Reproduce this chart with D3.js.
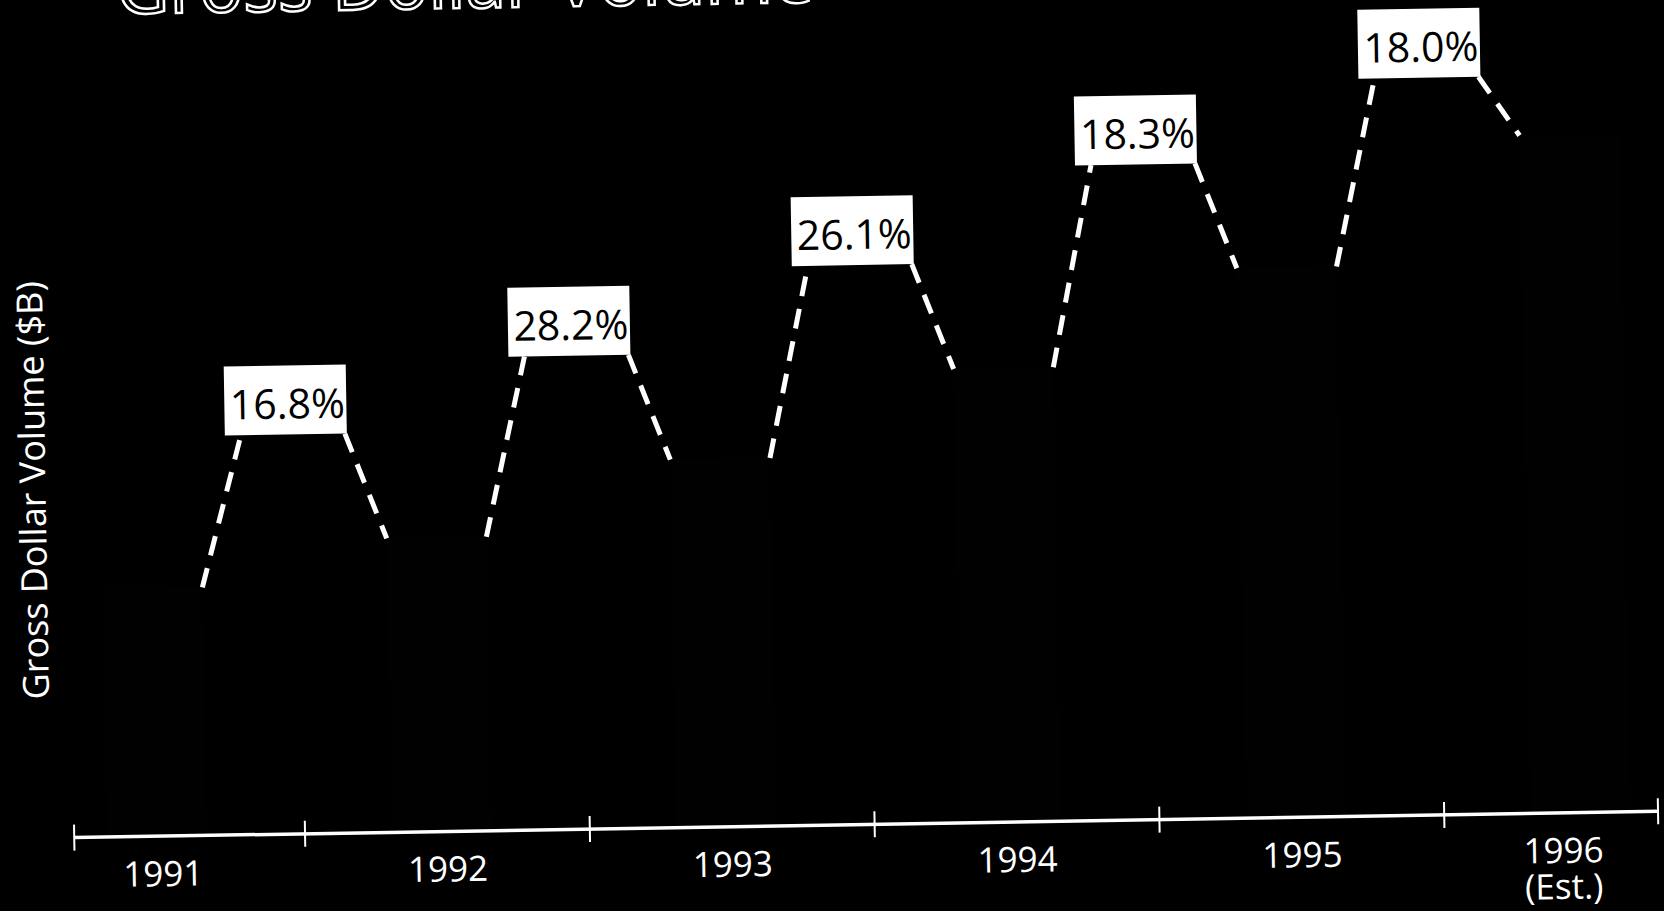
<!DOCTYPE html>
<html>
<head>
<meta charset="utf-8">
<script src="https://cdn.jsdelivr.net/npm/d3@7"></script>
<style>
  html, body { margin: 0; background: #000; overflow: hidden; }
  svg { display: block; }
  text { font-family: "Open Sans", "Noto Sans", sans-serif; }
</style>
</head>
<body>
<div id="chart"></div>
<script>
// Gross Dollar Volume Bar Chart With Growth Labels

// Data
const years = ["1991", "1992", "1993", "1994", "1995", "1996"];
const yearNotes = ["", "", "", "", "", "(Est.)"];
const volumes = [124, 147, 184, 227, 275, 339]; // $B
const growthLabels = ["16.8%", "28.2%", "26.1%", "18.3%", "18.0%"];

// Dimensions
const width = 1664, height = 911;
const baseY = 825; // Axis Line

const svg = d3.select("#chart")
  .append("svg")
    .attr("width", width)
    .attr("height", height);

svg.append("rect")
  .attr("width", width)
  .attr("height", height)
  .attr("fill", "#000");

// Whole Chart Is Slightly Tilted Like The Scan
const g = svg.append("g")
  .attr("transform", `rotate(-0.95, ${width / 2}, ${height / 2})`);

// Scales
const x = d3.scaleBand()
  .domain(years)
  .range([14, 1723]);
const y = d3.scaleLinear()
  .domain([0, 350])
  .range([baseY, 125]);

const barW = x.bandwidth() * 0.35;
const barX = d => x(d) + (x.bandwidth() - barW) / 2 - 6;

// Title (cut off at top)
g.append("text")
  .attr("x", 124)
  .attr("y", 2)
  .attr("font-size", "73px")
  .attr("fill", "#000")
  .attr("stroke", "#fff")
  .attr("stroke-width", 2.5)
  .text("Gross Dollar Volume");

// Bars (almost black on black)
g.selectAll(".bar")
  .data(years)
  .join("rect")
    .attr("class", "bar")
    .attr("x", d => barX(d))
    .attr("y", (d, i) => y(volumes[i]))
    .attr("width", barW)
    .attr("height", (d, i) => baseY - y(volumes[i]))
    .attr("fill", "#010101");

// Dashed Connectors And Growth Boxes
const boxW = 122, boxH = 69;
const boxes = growthLabels.map((label, i) => {
  const x0 = barX(years[i]) + barW, y0 = y(volumes[i]);
  const x1 = barX(years[i + 1]), y1 = y(volumes[i + 1]);
  const cx = x0 + 86;
  const cy = Math.max(y1 - 140, 53);
  return {label, x0, y0, x1, y1, left: cx - boxW / 2, top: cy - boxH / 2, cx};
});

const dashed = sel => sel
  .attr("stroke", "#fff")
  .attr("stroke-width", 5)
  .attr("stroke-dasharray", "20,13")
  .attr("fill", "none");

boxes.forEach(b => {
  const bottom = b.top + boxH;
  g.append("path")
    .attr("d", d3.line()([[b.x0, b.y0], [b.left + 16, bottom]]))
    .call(dashed);
  g.append("path")
    .attr("d", d3.line()([[b.left + boxW - 2, bottom], [b.x1, b.y1]]))
    .call(dashed);
});

g.selectAll(".growth-box")
  .data(boxes)
  .join("rect")
    .attr("class", "growth-box")
    .attr("x", d => d.left)
    .attr("y", d => d.top)
    .attr("width", boxW)
    .attr("height", boxH)
    .attr("fill", "#fff");

g.selectAll(".growth-text")
  .data(boxes)
  .join("text")
    .attr("class", "growth-text")
    .attr("x", d => d.cx + 2)
    .attr("y", d => d.top + 53)
    .attr("text-anchor", "middle")
    .attr("font-size", "41px")
    .attr("fill", "#000")
    .text(d => d.label);

// X-Axis Line With Ticks At Band Edges
const axisEnds = [68, 1652];
g.append("line")
  .attr("x1", axisEnds[0])
  .attr("x2", axisEnds[1])
  .attr("y1", baseY)
  .attr("y2", baseY)
  .attr("stroke", "#fff")
  .attr("stroke-width", 3.5);

const tickXs = [axisEnds[0], ...years.slice(1).map(d => x(d)), axisEnds[1]];
g.selectAll(".tick")
  .data(tickXs)
  .join("line")
    .attr("class", "tick")
    .attr("x1", d => d)
    .attr("x2", d => d)
    .attr("y1", baseY - 13)
    .attr("y2", baseY + 13)
    .attr("stroke", "#fff")
    .attr("stroke-width", 2);

// Year Labels, Kept Inside The Axis Line
const labelX = d => Math.min(x(d) + x.bandwidth() / 2, axisEnds[1] - 95);

g.selectAll(".year")
  .data(years)
  .join("text")
    .attr("class", "year")
    .attr("x", d => labelX(d))
    .attr("y", 875)
    .attr("text-anchor", "middle")
    .attr("font-size", "35px")
    .attr("fill", "#fff")
    .text(d => d);

g.selectAll(".year-note")
  .data(years.filter((d, i) => yearNotes[i] !== ""))
  .join("text")
    .attr("class", "year-note")
    .attr("x", d => labelX(d))
    .attr("y", 911)
    .attr("text-anchor", "middle")
    .attr("font-size", "35px")
    .attr("fill", "#fff")
    .text(d => yearNotes[years.indexOf(d)]);

// Y-Axis Label
g.append("text")
  .attr("transform", "translate(45,477) rotate(-90)")
  .attr("text-anchor", "middle")
  .attr("font-size", "36px")
  .attr("fill", "#fff")
  .text("Gross Dollar Volume ($B)");
</script>
</body>
</html>
